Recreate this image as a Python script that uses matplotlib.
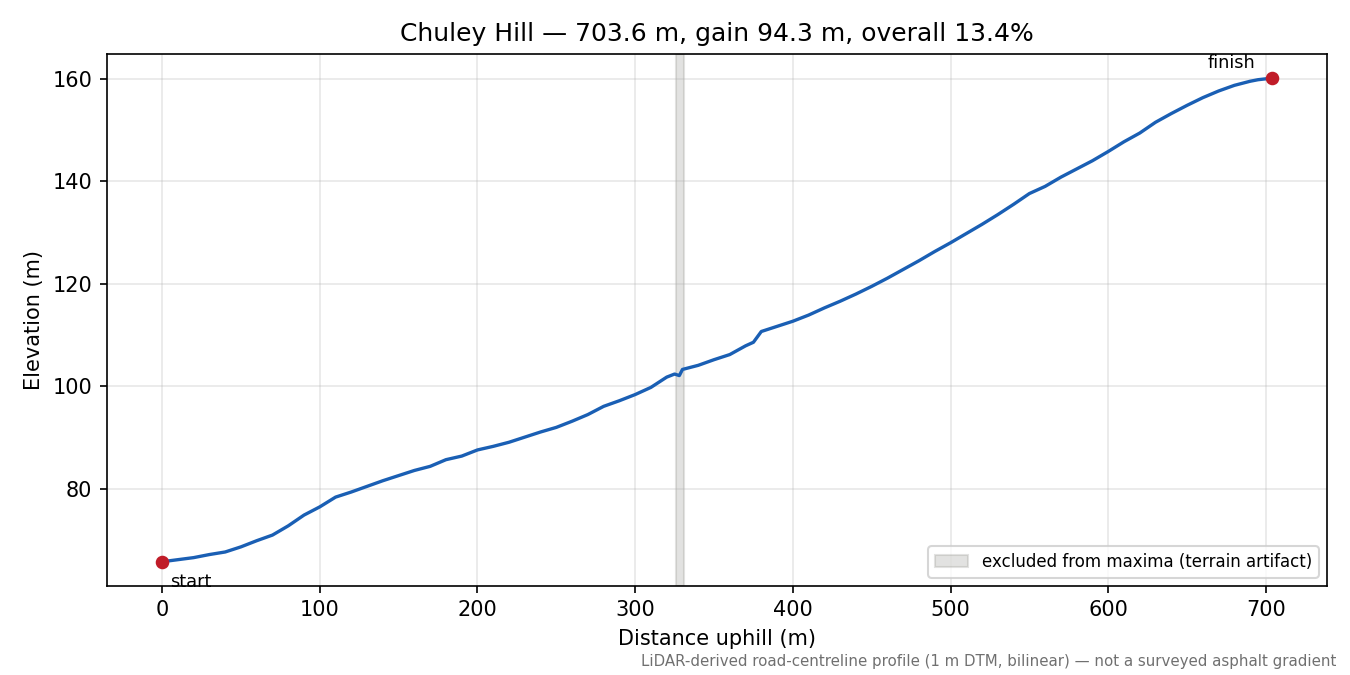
import matplotlib
matplotlib.use("Agg")
import matplotlib.pyplot as plt

# Elevation profile (distance in m, elevation in m)
distance = [0, 10, 20, 30, 40, 50, 60, 70, 80, 90, 100, 110, 120, 130, 140,
            150, 160, 170, 180, 190, 200, 210, 220, 230, 240, 250, 260, 270,
            280, 290, 300, 310, 320, 325, 328, 330, 340, 350, 360, 370, 375,
            380, 390, 400, 410, 420, 430, 440, 450, 460, 470, 480, 490, 500,
            510, 520, 530, 540, 550, 560, 570, 580, 590, 600, 610, 620, 630,
            640, 650, 660, 670, 680, 690, 695, 703.6]
elevation = [65.8, 66.2, 66.6, 67.2, 67.7, 68.7, 69.9, 71.0, 72.8, 74.9, 76.5,
             78.4, 79.4, 80.5, 81.6, 82.6, 83.6, 84.4, 85.7, 86.4, 87.6, 88.3,
             89.1, 90.1, 91.1, 92.0, 93.2, 94.5, 96.1, 97.2, 98.4, 99.8, 101.8,
             102.4, 102.1, 103.3, 104.1, 105.2, 106.2, 107.9, 108.6, 110.7,
             111.7, 112.7, 113.9, 115.3, 116.6, 118.0, 119.5, 121.1, 122.8,
             124.5, 126.3, 128.0, 129.8, 131.6, 133.5, 135.5, 137.6, 139.0,
             140.8, 142.4, 144.0, 145.8, 147.7, 149.4, 151.5, 153.2, 154.8,
             156.3, 157.6, 158.7, 159.5, 159.8, 160.1]

excluded = (326, 331)
title = "Chuley Hill \u2014 703.6 m, gain 94.3 m, overall 13.4%"
note = ("LiDAR-derived road-centreline profile (1 m DTM, bilinear) \u2014 "
        "not a surveyed asphalt gradient")


def main():
    fig, ax = plt.subplots(figsize=(9, 4.5), dpi=150)
    fig.subplots_adjust(left=0.079, right=0.983, top=0.92, bottom=0.132)

    ax.axvspan(excluded[0], excluded[1], color="#8f8f88", alpha=0.25,
               label="excluded from maxima (terrain artifact)")
    ax.plot(distance, elevation, color="#1a5fb4", lw=1.6)

    # start / finish markers
    ax.plot([distance[0], distance[-1]], [elevation[0], elevation[-1]], "o",
            color="#c01c28", ms=5.5, zorder=5)
    ax.annotate("start", (distance[0], elevation[0]), xytext=(4, -12),
                textcoords="offset points", fontsize=8.5)
    ax.annotate("finish", (distance[-1], elevation[-1]), xytext=(-8, 5),
                textcoords="offset points", fontsize=8.5, ha="right")

    ax.grid(True, alpha=0.3)
    ax.set_xlabel("Distance uphill (m)")
    ax.set_ylabel("Elevation (m)")
    ax.set_title(title, fontsize=12)
    ax.legend(loc="lower right", fontsize=8)

    fig.text(0.99, 0.013, note, ha="right", fontsize=7.2, color="#707070")
    fig.savefig("out.png", dpi=150)


if __name__ == "__main__":
    main()
